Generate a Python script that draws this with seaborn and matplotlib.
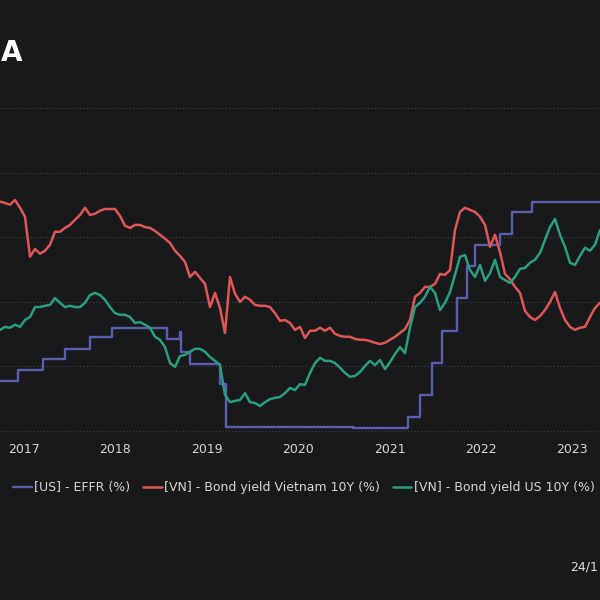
import pandas as pd
import matplotlib
matplotlib.use("Agg")
import matplotlib.pyplot as plt
import matplotlib.dates as mdates
import seaborn as sns

# bond yields sampled every 20 days
dates = pd.date_range("2016-09-26", periods=121, freq="20D")

vn_10y = [5.33, 5.30, 5.26, 5.37, 5.19, 4.98, 4.05, 4.23, 4.12, 4.19,
          4.33, 4.63, 4.63, 4.72, 4.79, 4.91, 5.02, 5.19, 5.02, 5.05,
          5.12, 5.16, 5.16, 5.16, 5.00, 4.77, 4.72, 4.79, 4.79, 4.74,
          4.72, 4.65, 4.56, 4.47, 4.37, 4.19, 4.07, 3.93, 3.58, 3.70,
          3.56, 3.42, 2.88, 3.21, 2.86, 2.28, 3.58, 3.19, 3.00, 3.12,
          3.05, 2.93, 2.91, 2.91, 2.88, 2.74, 2.56, 2.58, 2.51, 2.35,
          2.42, 2.16, 2.33, 2.33, 2.40, 2.33, 2.40, 2.26, 2.21, 2.19,
          2.19, 2.14, 2.12, 2.12, 2.09, 2.05, 2.02, 2.05, 2.12, 2.19,
          2.28, 2.37, 2.58, 3.12, 3.21, 3.35, 3.35, 3.42, 3.65, 3.63,
          3.74, 4.67, 5.09, 5.19, 5.14, 5.09, 4.98, 4.79, 4.28, 4.56,
          4.16, 3.65, 3.53, 3.35, 3.21, 2.79, 2.65, 2.58, 2.67, 2.81,
          3.00, 3.23, 2.86, 2.58, 2.42, 2.35, 2.40, 2.42, 2.65, 2.86,
          2.98]

us_10y = [2.35, 2.42, 2.40, 2.47, 2.42, 2.58, 2.65, 2.88, 2.88, 2.91,
          2.93, 3.09, 2.98, 2.88, 2.91, 2.88, 2.88, 2.98, 3.16, 3.21,
          3.16, 3.05, 2.88, 2.74, 2.70, 2.70, 2.65, 2.51, 2.53, 2.47,
          2.40, 2.19, 2.12, 1.95, 1.58, 1.49, 1.74, 1.77, 1.84, 1.91,
          1.91, 1.84, 1.72, 1.63, 1.53, 0.84, 0.67, 0.70, 0.72, 0.88,
          0.67, 0.65, 0.58, 0.67, 0.74, 0.77, 0.79, 0.88, 1.00, 0.95,
          1.09, 1.07, 1.35, 1.58, 1.70, 1.63, 1.63, 1.58, 1.47, 1.35,
          1.26, 1.28, 1.37, 1.51, 1.63, 1.53, 1.65, 1.44, 1.60, 1.79,
          1.95, 1.81, 2.40, 2.88, 2.98, 3.12, 3.35, 3.21, 2.81, 2.98,
          3.23, 3.63, 4.05, 4.09, 3.74, 3.58, 3.86, 3.49, 3.67, 3.98,
          3.58, 3.51, 3.44, 3.58, 3.77, 3.79, 3.91, 3.98, 4.14, 4.44,
          4.74, 4.93, 4.56, 4.28, 3.91, 3.86, 4.07, 4.26, 4.19, 4.33,
          4.67]

# EFFR change points
effr_dates = pd.to_datetime([
    "2016-09-26", "2016-12-07", "2017-03-17", "2017-06-13", "2017-09-21",
    "2017-12-18", "2018-07-26", "2018-09-16", "2018-09-20", "2018-10-26",
    "2019-02-23", "2019-03-19", "2020-06-17", "2020-08-08", "2021-03-16",
    "2021-05-03", "2021-06-20", "2021-07-30", "2021-09-28", "2021-11-07",
    "2021-12-09", "2022-03-19", "2022-05-06", "2022-07-25", "2023-04-23"])
effr = [1.16, 1.42, 1.68, 1.91, 2.18,
        2.40, 2.13, 2.30, 1.84, 1.55,
        1.10, 0.09, 0.10, 0.08, 0.33,
        0.83, 1.58, 2.33, 3.08, 3.83,
        4.33, 4.58, 5.08, 5.33, 5.33]

labels = ["[US] - EFFR (%)", "[VN] - Bond yield Vietnam 10Y (%)",
          "[VN] - Bond yield US 10Y (%)"]
colors = ["#5b5eb0", "#e05656", "#2a9e7e"]

bg = "#18191b"
sns.set_theme(style="dark", rc={"axes.facecolor": bg, "figure.facecolor": bg})
plt.rcParams["font.family"] = ["DejaVu Sans"]

fig = plt.figure(figsize=(6, 6), dpi=100)
ax = fig.add_axes([0, 1 - 437 / 600, 1, 342 / 600])

sns.lineplot(x=effr_dates, y=effr, ax=ax, color=colors[0], linewidth=1.7,
             drawstyle="steps-post", label=labels[0])
sns.lineplot(x=dates, y=vn_10y, ax=ax, color=colors[1], linewidth=1.8,
             label=labels[1])
sns.lineplot(x=dates, y=us_10y, ax=ax, color=colors[2], linewidth=1.8,
             label=labels[2])

ax.set_xlim(pd.Timestamp("2016-09-26"), pd.Timestamp("2023-04-23"))
ax.set_ylim(-0.14, 7.81)
ax.set_yticks([0, 1.5, 3, 4.5, 6, 7.5])
ax.set_yticklabels([])
ax.grid(axis="y", color="#3c3d41", linestyle=":", linewidth=0.9)
ax.grid(axis="x", visible=False)
ax.xaxis.set_major_locator(mdates.YearLocator())
ax.xaxis.set_major_formatter(mdates.DateFormatter("%Y"))
ax.tick_params(axis="x", length=0, pad=4, labelsize=9, labelcolor="#d6d6d6")
ax.tick_params(axis="y", length=0)
ax.set_xlabel("")
ax.set_ylabel("")
for s in ax.spines.values():
    s.set_visible(False)

handles, labs = ax.get_legend_handles_labels()
ax.get_legend().remove()
fig.legend(handles, labs, loc="center left", bbox_to_anchor=(13 / 600, 1 - 488 / 600),
           ncol=3, frameon=False, fontsize=9, handlelength=1.5, handletextpad=0.2,
           columnspacing=1.0, borderpad=0, borderaxespad=0, labelcolor="#d6d6d6")

fig.text(1 / 600, 1 - 53 / 600, "A", ha="left", va="center", fontsize=20,
         fontweight="bold", color="white")
fig.text(598 / 600, 1 - 567 / 600, "24/1", ha="right", va="center", fontsize=9,
         color="#e0e0e0")

fig.savefig("out.png", dpi=100, facecolor=bg)
